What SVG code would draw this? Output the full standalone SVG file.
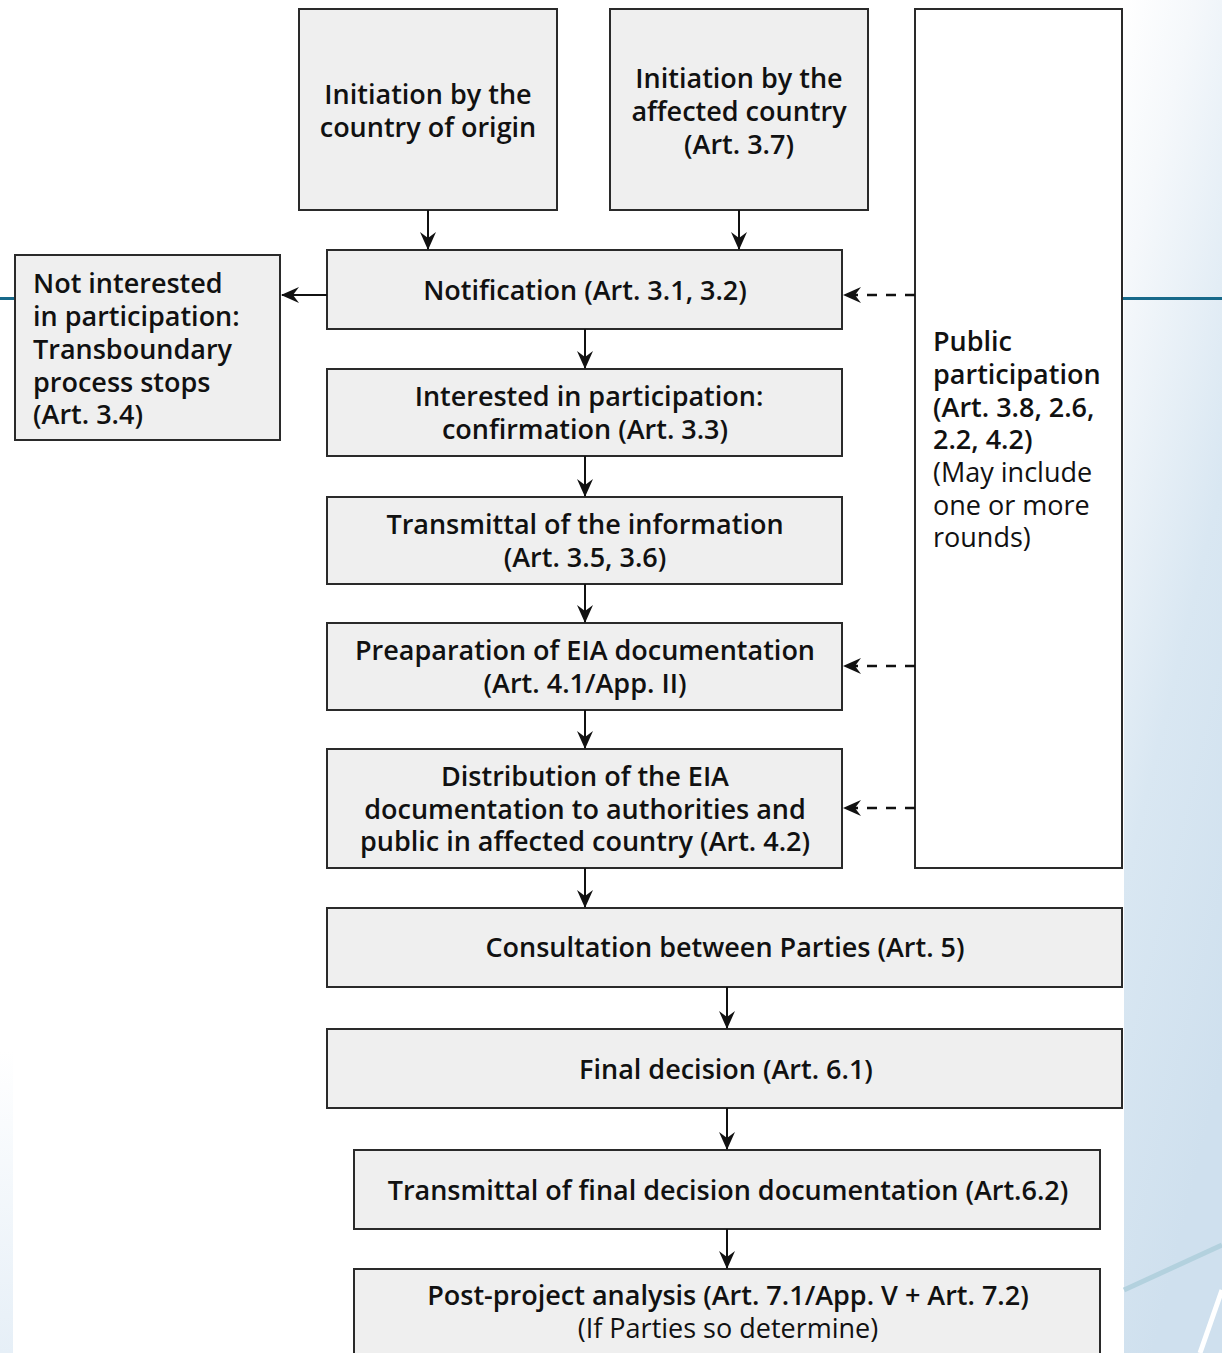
<svg xmlns="http://www.w3.org/2000/svg" width="1222" height="1353" viewBox="0 0 1222 1353">
<defs>
<linearGradient id="bgR" x1="0" y1="0" x2="0.3" y2="1">
<stop offset="0" stop-color="#ffffff"/>
<stop offset="0.2" stop-color="#f5f8fb"/>
<stop offset="0.6" stop-color="#d9e7f2"/>
<stop offset="1" stop-color="#cfe0ee"/>
</linearGradient>
<linearGradient id="bgL" x1="0" y1="0" x2="0" y2="1">
<stop offset="0" stop-color="#ffffff"/>
<stop offset="1" stop-color="#e6eff7"/>
</linearGradient>
<marker id="ah" markerWidth="18" markerHeight="16" refX="17" refY="8" orient="auto" markerUnits="userSpaceOnUse">
<path d="M0,0 L18,8 L0,16 L6,8 z" fill="#111"/>
</marker>
</defs>
<style>
.box{fill:#efefef;stroke:#2a2a2a;stroke-width:2}
.pub{fill:#ffffff;stroke:#2a2a2a;stroke-width:2}
.t{font-family:"Open Sans","Noto Sans","DejaVu Sans",sans-serif;font-size:27px;font-weight:600;fill:#111}
.n{font-weight:400}
.c{text-anchor:middle}
.ln{stroke:#111;stroke-width:2;fill:none}
.dash{stroke:#111;stroke-width:2.5;fill:none;stroke-dasharray:10 9}
</style>
<g id="background">
<rect x="1124" y="0" width="98" height="1353" fill="url(#bgR)"/>
<rect x="0" y="1050" width="13" height="303" fill="url(#bgL)"/>
<line x1="0" y1="298.5" x2="20" y2="298.5" stroke="#17698a" stroke-width="3"/>
<line x1="1120" y1="298.5" x2="1222" y2="298.5" stroke="#17698a" stroke-width="3"/>
<line x1="1124" y1="1290" x2="1222" y2="1245" stroke="#b3d1de" stroke-width="5"/>
<line x1="1200" y1="1353" x2="1222" y2="1290" stroke="#ffffff" stroke-width="5"/>
</g>
<g id="n-origin">
<rect class="box" x="299" y="9" width="258" height="201"/>
<text class="t c"><tspan x="428" y="104">Initiation by the</tspan><tspan x="428" y="137">country of origin</tspan></text>
</g>
<g id="n-affected">
<rect class="box" x="610" y="9" width="258" height="201"/>
<text class="t c"><tspan x="739" y="88">Initiation by the</tspan><tspan x="739" y="121">affected country</tspan><tspan x="739" y="154">(Art. 3.7)</tspan></text>
</g>
<g id="n-public">
<rect class="pub" x="915" y="9" width="207" height="859"/>
<text class="t"><tspan x="933" y="351">Public</tspan><tspan x="933" y="384">participation</tspan><tspan x="933" y="417">(Art. 3.8, 2.6,</tspan><tspan x="933" y="449">2.2, 4.2)</tspan><tspan class="n" x="933" y="482">(May include</tspan><tspan class="n" x="933" y="515">one or more</tspan><tspan class="n" x="933" y="547">rounds)</tspan></text>
</g>
<g id="n-notinterested">
<rect class="box" x="15" y="255" width="265" height="185"/>
<text class="t"><tspan x="33" y="293">Not interested</tspan><tspan x="33" y="326">in participation:</tspan><tspan x="33" y="359">Transboundary</tspan><tspan x="33" y="392">process stops</tspan><tspan x="33" y="424">(Art. 3.4)</tspan></text>
</g>
<g id="n-notification">
<rect class="box" x="327" y="250" width="515" height="79"/>
<text class="t c" x="585" y="300">Notification (Art. 3.1, 3.2)</text>
</g>
<g id="n-interested">
<rect class="box" x="327" y="369" width="515" height="87"/>
<text class="t c"><tspan x="589" y="406">Interested in participation:</tspan><tspan x="585" y="439">confirmation (Art. 3.3)</tspan></text>
</g>
<g id="n-transmittal">
<rect class="box" x="327" y="497" width="515" height="87"/>
<text class="t c"><tspan x="585" y="534">Transmittal of the information</tspan><tspan x="585" y="567">(Art. 3.5, 3.6)</tspan></text>
</g>
<g id="n-preparation">
<rect class="box" x="327" y="623" width="515" height="87"/>
<text class="t c"><tspan x="585" y="660">Preaparation of EIA documentation</tspan><tspan x="585" y="693">(Art. 4.1/App. II)</tspan></text>
</g>
<g id="n-distribution">
<rect class="box" x="327" y="749" width="515" height="119"/>
<text class="t c"><tspan x="585" y="786">Distribution of the EIA</tspan><tspan x="585" y="819">documentation to authorities and</tspan><tspan x="585" y="851">public in affected country (Art. 4.2)</tspan></text>
</g>
<g id="n-consultation">
<rect class="box" x="327" y="908" width="795" height="79"/>
<text class="t c" x="725" y="957">Consultation between Parties (Art. 5)</text>
</g>
<g id="n-final">
<rect class="box" x="327" y="1029" width="795" height="79"/>
<text class="t c" x="726" y="1079">Final decision (Art. 6.1)</text>
</g>
<g id="n-transmittal-final">
<rect class="box" x="354" y="1150" width="746" height="79"/>
<text class="t c" x="728" y="1200">Transmittal of final decision documentation (Art.6.2)</text>
</g>
<g id="n-post">
<rect class="box" x="354" y="1269" width="746" height="100"/>
<text class="t c"><tspan x="728" y="1305">Post-project analysis (Art. 7.1/App. V + Art. 7.2)</tspan><tspan class="n" x="728" y="1338">(If Parties so determine)</tspan></text>
</g>
<g id="connectors">
<line class="ln" x1="428" y1="210" x2="428" y2="249" marker-end="url(#ah)"/>
<line class="ln" x1="739" y1="210" x2="739" y2="249" marker-end="url(#ah)"/>
<line class="ln" x1="327" y1="295" x2="282" y2="295" marker-end="url(#ah)"/>
<line class="dash" x1="915" y1="295" x2="844" y2="295" marker-end="url(#ah)"/>
<line class="dash" x1="915" y1="666" x2="844" y2="666" marker-end="url(#ah)"/>
<line class="dash" x1="915" y1="808" x2="844" y2="808" marker-end="url(#ah)"/>
<line class="ln" x1="585" y1="329" x2="585" y2="368" marker-end="url(#ah)"/>
<line class="ln" x1="585" y1="456" x2="585" y2="496" marker-end="url(#ah)"/>
<line class="ln" x1="585" y1="584" x2="585" y2="622" marker-end="url(#ah)"/>
<line class="ln" x1="585" y1="710" x2="585" y2="748" marker-end="url(#ah)"/>
<line class="ln" x1="585" y1="868" x2="585" y2="907" marker-end="url(#ah)"/>
<line class="ln" x1="727" y1="987" x2="727" y2="1028" marker-end="url(#ah)"/>
<line class="ln" x1="727" y1="1108" x2="727" y2="1149" marker-end="url(#ah)"/>
<line class="ln" x1="727" y1="1229" x2="727" y2="1268" marker-end="url(#ah)"/>
</g>
</svg>
